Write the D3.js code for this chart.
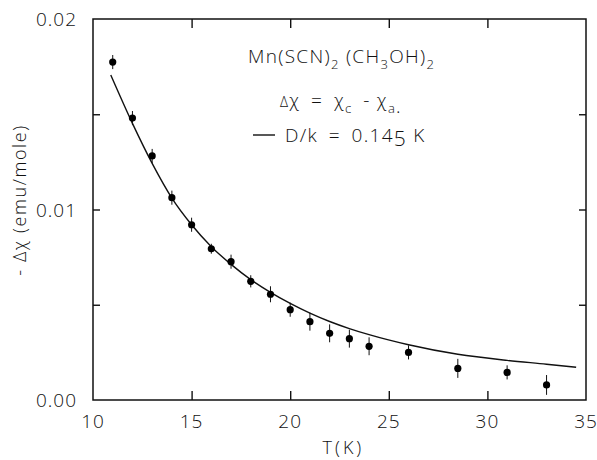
<!DOCTYPE html>
<html>
<head>
<meta charset="utf-8">
<script src="https://cdn.jsdelivr.net/npm/d3@7"></script>
<style>
  body { margin: 0; background: #fff; }
  text { font-family: 'Open Sans', 'Liberation Sans', sans-serif; font-weight: 300; fill: #111; }
</style>
</head>
<body>
<div class="visHolder"></div>
<script>
// measured points: temperature (K) and -delta chi (emu/mole)
var tempK = [11, 12, 13, 14, 15, 16, 17, 18, 19, 20, 21, 22, 23, 24, 26, 28.5, 31, 33];
var dChi = [0.01774, 0.0148, 0.01281, 0.01062, 0.0092, 0.00794, 0.00726, 0.00623, 0.00555,
  0.00474, 0.00411, 0.0035, 0.00322, 0.00282, 0.0025, 0.00166, 0.00145, 0.00079];
var dChiErr = [0.00037, 0.00037, 0.00037, 0.00037, 0.00037, 0.00026, 0.00037, 0.00032, 0.00042,
  0.00037, 0.00047, 0.00047, 0.00047, 0.00047, 0.00037, 0.0005, 0.00037, 0.00052];

// fitted curve D/k = 0.145 K
var curveT = [10.9, 12, 13, 14, 15, 16, 17, 18, 19, 20, 21, 22, 23, 24, 26, 28.5, 31, 33, 34.5];
var curveChi = [0.01706, 0.01452, 0.01242, 0.0106, 0.0092, 0.00805, 0.00712, 0.00632, 0.00565,
  0.00507, 0.00456, 0.00412, 0.00375, 0.00343, 0.0029, 0.0024, 0.00208, 0.00188, 0.00172];

var xTicks = [10, 15, 20, 25, 30, 35];
var yMajor = [0, 0.01, 0.02];
var yLabels = ['0.00', '0.01', '0.02'];
var yMinor = [0.005, 0.01, 0.015];

var width = 597,
  height = 460,
  pLeft = 93, pRight = 586, pTop = 19, pBottom = 400;

var svg = d3.select('.visHolder')
  .append('svg')
  .attr('width', width)
  .attr('height', height);

var x = d3.scaleLinear().domain([10, 35]).range([pLeft, pRight]);
var y = d3.scaleLinear().domain([0, 0.02]).range([pBottom, pTop]);

var ink = '#111';

// frame
svg.append('rect')
  .attr('x', pLeft).attr('y', pTop)
  .attr('width', pRight - pLeft).attr('height', pBottom - pTop)
  .attr('fill', 'none').attr('stroke', ink).attr('stroke-width', 1.5);

// inward ticks via axes
var inner = xTicks.slice(1, -1);
svg.append('g')
  .attr('transform', 'translate(0,' + pBottom + ')')
  .call(d3.axisTop(x).tickValues(inner).tickSize(9).tickFormat(''))
  .call(g => g.select('.domain').remove());
svg.append('g')
  .attr('transform', 'translate(0,' + pTop + ')')
  .call(d3.axisBottom(x).tickValues(inner).tickSize(9).tickFormat(''))
  .call(g => g.select('.domain').remove());
svg.append('g')
  .attr('transform', 'translate(' + pLeft + ',0)')
  .call(d3.axisRight(y).tickValues(yMinor).tickSize(7).tickFormat(''))
  .call(g => g.select('.domain').remove());
svg.append('g')
  .attr('transform', 'translate(' + pRight + ',0)')
  .call(d3.axisLeft(y).tickValues(yMinor).tickSize(7).tickFormat(''))
  .call(g => g.select('.domain').remove());
svg.selectAll('.tick line').attr('stroke', ink).attr('stroke-width', 1.4);

// tick labels
svg.selectAll('.xlab')
  .data(xTicks)
  .enter()
  .append('text')
  .attr('x', d => x(d))
  .attr('y', pBottom + 28)
  .attr('text-anchor', 'middle')
  .style('font-size', '19px')
  .style('letter-spacing', '1px')
  .text(d => d);

svg.selectAll('.ylab')
  .data(yMajor)
  .enter()
  .append('text')
  .attr('x', pLeft - 16)
  .attr('y', d => y(d) + 7)
  .attr('text-anchor', 'end')
  .style('font-size', '19px')
  .style('letter-spacing', '1px')
  .text((d, i) => yLabels[i]);

// axis titles
svg.append('text')
  .attr('x', x(22.7))
  .attr('y', 454)
  .attr('text-anchor', 'middle')
  .style('font-size', '18px')
  .style('letter-spacing', '3px')
  .text('T(K)');

svg.append('text')
  .attr('transform', 'translate(26,' + 200 + ') rotate(-90)')
  .attr('text-anchor', 'middle')
  .style('font-size', '18px')
  .style('letter-spacing', '1.6px')
  .text('- \u0394\u03c7 (emu/mole)');

// curve
var line = d3.line()
  .x((d, i) => x(curveT[i]))
  .y(d => y(d))
  .curve(d3.curveMonotoneX);
svg.append('path')
  .datum(curveChi)
  .attr('d', line)
  .attr('fill', 'none')
  .attr('stroke', ink)
  .attr('stroke-width', 1.4);

// error bars
svg.selectAll('.err')
  .data(dChi)
  .enter()
  .append('line')
  .attr('x1', (d, i) => x(tempK[i]))
  .attr('x2', (d, i) => x(tempK[i]))
  .attr('y1', (d, i) => y(d + dChiErr[i]))
  .attr('y2', (d, i) => y(d - dChiErr[i]))
  .attr('stroke', ink)
  .attr('stroke-width', 1);

// points
svg.selectAll('.pt')
  .data(dChi)
  .enter()
  .append('circle')
  .attr('cx', (d, i) => x(tempK[i]))
  .attr('cy', d => y(d))
  .attr('r', 3.6)
  .attr('fill', '#000');

// legend text block
var t1 = svg.append('text').attr('x', 248).attr('y', 63)
  .style('font-size', '19px').style('letter-spacing', '1.3px');
t1.append('tspan').text('Mn(SCN)');
t1.append('tspan').attr('dy', 6).style('font-size', '13px').text('2');
t1.append('tspan').attr('dy', -6).text(' (CH');
t1.append('tspan').attr('dy', 6).style('font-size', '13px').text('3');
t1.append('tspan').attr('dy', -6).text('OH)');
t1.append('tspan').attr('dy', 6).style('font-size', '13px').text('2');

var t2 = svg.append('text').attr('x', 280).attr('y', 107)
  .style('font-size', '19px').style('letter-spacing', '1.3px');
t2.append('tspan').style('font-size', '14px').text('\u0394');
t2.append('tspan').text('\u03c7 \u2009= \u2009\u03c7');
t2.append('tspan').attr('dy', 6).style('font-size', '13px').text('c');
t2.append('tspan').attr('dy', -6).text(' \u2009- \u03c7');
t2.append('tspan').attr('dy', 6).style('font-size', '13px').text('a');
t2.append('tspan').text('.');

svg.append('line')
  .attr('x1', 253).attr('x2', 275)
  .attr('y1', 135).attr('y2', 135)
  .attr('stroke', ink).attr('stroke-width', 1.4);
var t3 = svg.append('text').attr('x', 285).attr('y', 142)
  .style('font-size', '19px').style('letter-spacing', '1.3px');
t3.append('tspan').text('D/k \u2009= \u20090.14');
t3.append('tspan').attr('dy', 4).style('font-size', '21px').text('5');
t3.append('tspan').attr('dy', -4).text(' K');
</script>
</body>
</html>
